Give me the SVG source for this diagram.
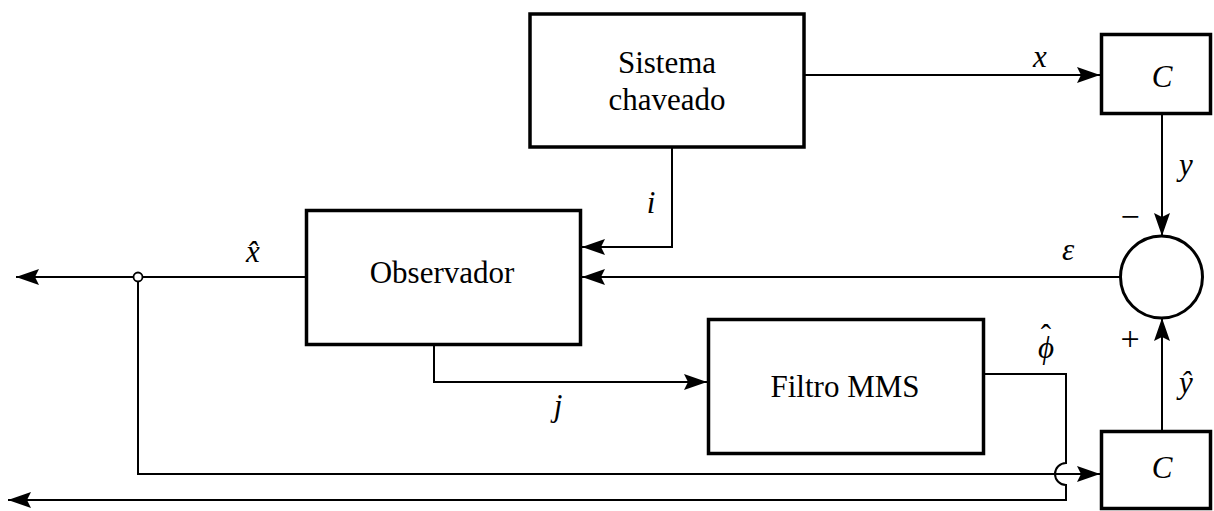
<svg xmlns="http://www.w3.org/2000/svg" width="1214" height="511" viewBox="0 0 1214 511">
<style>
.box{fill:#fff;stroke:#000;stroke-width:3.5}
.ln{fill:none;stroke:#000;stroke-width:2}
.arr{fill:none;stroke:#000;stroke-width:2;marker-end:url(#ah)}
.t{font-family:"Liberation Serif","Times New Roman",serif;font-size:31px;fill:#000}
.m{font-family:"Liberation Serif","Times New Roman",serif;font-size:31px;font-style:italic;fill:#000}
.s{font-family:"Liberation Serif","Times New Roman",serif;font-size:34px;fill:#000}
.hat{font-style:normal}
</style>
<defs>
<marker id="ah" markerUnits="userSpaceOnUse" viewBox="-24 -9 25 18" refX="0" refY="0" markerWidth="25" markerHeight="18" orient="auto">
<path d="M0,0 L-23,-8 L-19,0 L-23,8 z" fill="#000"/>
</marker>
</defs>
<rect width="1214" height="511" fill="#fff"/>
<g id="connectors">
<line class="arr" x1="805" y1="75" x2="1100" y2="75"/>
<line class="arr" x1="1162" y1="115" x2="1162" y2="236"/>
<line class="arr" x1="1120" y1="277" x2="582" y2="277"/>
<polyline class="arr" points="672,148 672,247 582,247"/>
<line class="arr" x1="305" y1="277" x2="16" y2="277"/>
<polyline class="arr" points="138,277 138,474 1100,474"/>
<polyline class="arr" points="434,346 434,382 707,382"/>
<path class="arr" d="M985,374 H1066 V463 A11,11 0 0 0 1066,485 V500 H8"/>
<line class="arr" x1="1162" y1="430" x2="1162" y2="318"/>
<circle cx="138" cy="277" r="4.5" fill="#fff" stroke="#000" stroke-width="1.8"/>
</g>
<g id="sistema">
<rect class="box" x="530" y="14" width="274" height="133"/>
<text class="t" x="667" y="73" text-anchor="middle">Sistema</text>
<text class="t" x="667" y="110" text-anchor="middle">chaveado</text>
</g>
<g id="observador">
<rect class="box" x="306.5" y="210.5" width="274" height="134"/>
<text class="t" x="442" y="283" text-anchor="middle">Observador</text>
</g>
<g id="filtro">
<rect class="box" x="708.5" y="319.5" width="275" height="134"/>
<text class="t" x="845" y="397" text-anchor="middle">Filtro MMS</text>
</g>
<g id="c-top">
<rect class="box" x="1101.5" y="34.5" width="109" height="79"/>
<text class="m" x="1162" y="87" text-anchor="middle">C</text>
</g>
<g id="c-bottom">
<rect class="box" x="1101.5" y="431.5" width="109" height="77"/>
<text class="m" x="1162" y="478" text-anchor="middle">C</text>
</g>
<g id="sum">
<circle cx="1161.5" cy="277" r="41" fill="#fff" stroke="#000" stroke-width="3"/>
</g>
<g id="labels">
<text class="m" x="1040" y="67" text-anchor="middle">x</text>
<text class="m" x="1186" y="175" text-anchor="middle">y</text>
<text class="s" x="1130" y="228" text-anchor="middle" fill="#444">−</text>
<text class="m" x="1068" y="260" text-anchor="middle">ε</text>
<text class="s" x="1130" y="350" text-anchor="middle">+</text>
<text class="m" x="1186" y="393" text-anchor="middle">ŷ</text>
<text class="m" x="1046" y="358" text-anchor="middle">ϕ<tspan class="hat" x="1046" y="346">ˆ</tspan></text>
<text class="m" x="253" y="262" text-anchor="middle">x̂</text>
<text class="m" x="651" y="213" text-anchor="middle">i</text>
<text class="m" x="558" y="416" text-anchor="middle">j</text>
</g>
</svg>
